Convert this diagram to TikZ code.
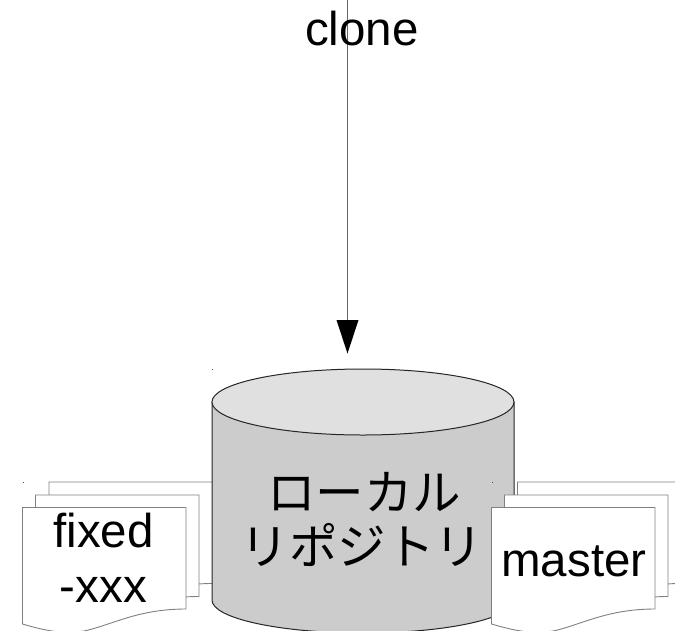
\documentclass[tikz,border=0pt]{standalone}
\usepackage{fontspec}
\setmainfont{Liberation Sans}
\newfontfamily\cjk{Noto Sans CJK JP}[Scale=1]
\tikzset{
  pageline/.style={draw=black!50,line width=0.9pt,fill=white},
  lab/.style={inner sep=0pt,font=\fontsize{47.5}{50}\selectfont,text=black,anchor=base},
  jplab/.style={inner sep=0pt,font=\cjk\fontsize{48.5}{50}\selectfont,text=black,anchor=base},
  cyl/.style={draw=black!85,line width=1pt,fill=black!20},
  cyltop/.style={draw=black!85,line width=1pt,fill=black!12},
  speck/.style={fill=black!70,draw=none},
  pics/sheet/.style={code={
    \path[pageline] (0,0) -- (163.5,0) -- (163.5,101.5)
      .. controls (118,101.5) and (93,115.5) .. (66,122.5)
      .. controls (44,128) and (22,123) .. (0,116.5) -- cycle;
  }}
}
\begin{document}
\begin{tikzpicture}[x=1pt,y=-1pt]
\clip (0,0) rectangle (675,630);
\fill[white] (0,0) rectangle (675,630);
% left stack, behind the cylinder
\pic at (49,482) {sheet};
\pic at (35.5,495) {sheet};
\pic at (22.5,507.5) {sheet};
% cylinder
\path[cyl] (212,402) -- (212,600) .. controls (212,618.2) and (279,633) .. (363,633)
   .. controls (447,633) and (514,618.2) .. (514,600) -- (514,402) -- cycle;
\path[cyltop] (363,402) ellipse [x radius=151, y radius=33];
\coordinate (cyltopmark) at (347.5,353.5);
\coordinate (arrowstart) at (347.5,-2);
\draw[black!60,line width=1.3pt] (arrowstart) -- (347.5,322);
\fill[black] (cyltopmark) -- (336.5,320) -- (358.5,320) -- cycle;
% right stack, in front of the cylinder
\pic at (517.5,482) {sheet};
\pic at (504.5,495) {sheet};
\pic at (491.5,507.5) {sheet};
% specks
\fill[speck] (22.5,482) rectangle +(1,1);
\fill[speck] (212,369) rectangle +(1,1);
\fill[speck] (491.5,482) rectangle +(1,1);
% labels
\node[lab] (clone) at (362,45) {clone};
\node[lab] (fixed) at (103.5,547) {fixed};
\node[lab] (xxx) at (103.5,602) {-xxx};
\node[lab] (master) at (574,576) {master};
\node[jplab] (jp1) at (364,510) {ローカル};
\node[jplab] (jp2) at (362,564) {リポジトリ};
\end{tikzpicture}
\end{document}
